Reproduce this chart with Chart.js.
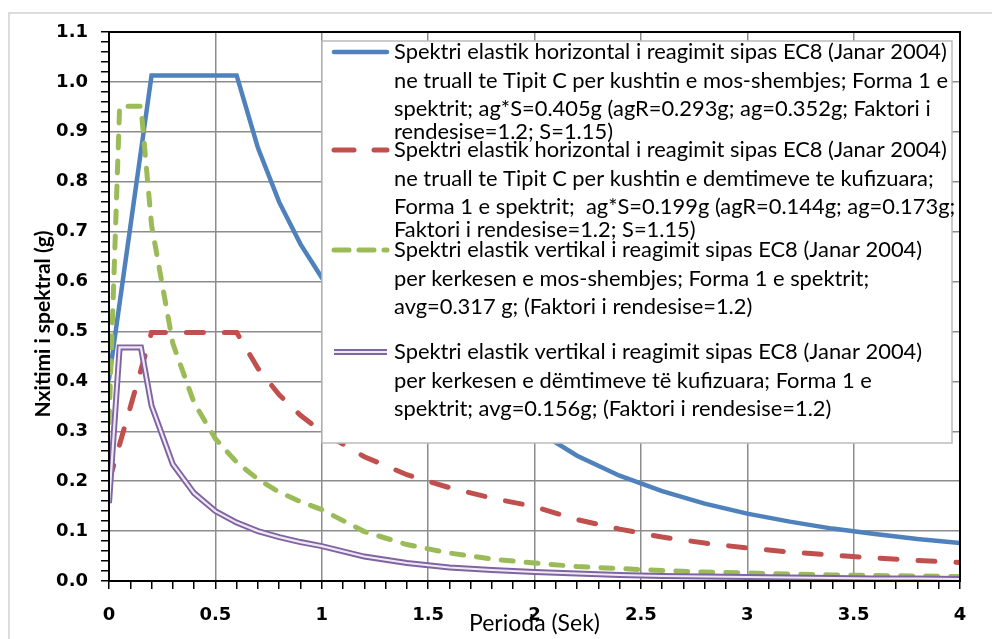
<!DOCTYPE html>
<html>
<head>
<meta charset="utf-8">
<script src="https://cdn.jsdelivr.net/npm/chart.js@4.4.1/dist/chart.umd.min.js"></script>
<style>
  body { margin: 0; background: #fff; }
  canvas { display: block; }
</style>
</head>
<body>
<canvas id="spektri" width="992" height="639"></canvas>
<script>
// periods (sek) and spectral accelerations (g)
const periods = [0, 0.05, 0.1, 0.15, 0.2, 0.3, 0.4, 0.5, 0.6, 0.7, 0.8, 0.9, 1.0, 1.2, 1.4, 1.6, 1.8, 2.0, 2.2, 2.4, 2.6, 2.8, 3.0, 3.2, 3.4, 3.6, 3.8, 4.0]
const horizMosShembje = [0.405, 0.557, 0.709, 0.861, 1.013, 1.013, 1.013, 1.013, 1.013, 0.868, 0.759, 0.675, 0.608, 0.506, 0.434, 0.380, 0.338, 0.304, 0.251, 0.211, 0.180, 0.155, 0.135, 0.119, 0.105, 0.094, 0.084, 0.076]
const horizDemtime = [0.199, 0.274, 0.348, 0.423, 0.498, 0.498, 0.498, 0.498, 0.498, 0.426, 0.373, 0.332, 0.299, 0.249, 0.213, 0.187, 0.166, 0.149, 0.123, 0.104, 0.088, 0.076, 0.066, 0.058, 0.052, 0.046, 0.041, 0.037]
const vertMosShembje = [0.317, 0.951, 0.951, 0.951, 0.713, 0.476, 0.357, 0.285, 0.238, 0.204, 0.178, 0.159, 0.143, 0.099, 0.073, 0.056, 0.044, 0.036, 0.029, 0.025, 0.021, 0.018, 0.016, 0.014, 0.012, 0.011, 0.010, 0.009]
const vertDemtime = [0.156, 0.468, 0.468, 0.468, 0.351, 0.234, 0.176, 0.140, 0.117, 0.100, 0.088, 0.078, 0.070, 0.049, 0.036, 0.027, 0.022, 0.018, 0.015, 0.012, 0.010, 0.009, 0.008, 0.007, 0.006, 0.005, 0.005, 0.004]

const label1 = ['Spektri elastik horizontal i reagimit sipas EC8 (Janar 2004)',
  'ne truall te Tipit C per kushtin e mos-shembjes; Forma 1 e',
  'spektrit; ag*S=0.405g (agR=0.293g; ag=0.352g; Faktori i',
  'rendesise=1.2; S=1.15)']
const label2 = ['Spektri elastik horizontal i reagimit sipas EC8 (Janar 2004)',
  'ne truall te Tipit C per kushtin e demtimeve te kufizuara;',
  'Forma 1 e spektrit;  ag*S=0.199g (agR=0.144g; ag=0.173g;',
  'Faktori i rendesise=1.2; S=1.15)']
const label3 = ['Spektri elastik vertikal i reagimit sipas EC8 (Janar 2004)',
  'per kerkesen e mos-shembjes; Forma 1 e spektrit;',
  'avg=0.317 g; (Faktori i rendesise=1.2)']
const label4 = ['Spektri elastik vertikal i reagimit sipas EC8 (Janar 2004)',
  'per kerkesen e dëmtimeve të kufizuara; Forma 1 e',
  'spektrit; avg=0.156g; (Faktori i rendesise=1.2)']
const legendLines = [label1, label2, label3, label4]

const toPoints = values => periods.map((p, i) => ({ x: p, y: values[i] }))
const isStep = (v, n) => Math.abs(v * n - Math.round(v * n)) < 1e-6

const tickFont = { family: '"DejaVu Sans"', weight: 'bold', size: 18 }

// white page with the light outer frame, black border round the plot area
const frame = {
  id: 'frame',
  beforeDraw(chart) {
    const c = chart.ctx
    c.save()
    c.fillStyle = '#fff'
    c.fillRect(0, 0, chart.width, chart.height)
    c.strokeStyle = '#dcdcdc'
    c.lineWidth = 2
    c.strokeRect(9, 13, chart.width + 20, chart.height + 20)
    c.restore()
  },
  afterDatasetsDraw(chart) {
    const a = chart.chartArea
    const c = chart.ctx
    c.save()
    c.strokeStyle = '#000'
    c.lineWidth = 2
    c.strokeRect(a.left, a.top, a.right - a.left, a.bottom - a.top)
    c.restore()
  }
}

// y title sits a little below the middle in the original
const yTitle = {
  id: 'yTitle',
  afterDraw(chart) {
    const c = chart.ctx
    c.save()
    c.translate(43, 324)
    c.rotate(-Math.PI / 2)
    c.font = 'bold 21px Lato'
    c.fillStyle = '#000'
    c.textAlign = 'center'
    c.textBaseline = 'middle'
    c.fillText('Nxitimi i spektral (g)', 0, 0)
    c.restore()
  }
}

// boxed legend drawn over the plot, like the excel one
const legendBox = {
  id: 'legendBox',
  afterDraw(chart) {
    const c = chart.ctx
    const rowY = [52, 150, 250, 352]
    const lineOffsets = [0, 29, 57, 80]
    c.save()
    c.fillStyle = '#fff'
    c.fillRect(322, 41, 630, 402)
    c.strokeStyle = '#bcbcbc'
    c.lineWidth = 1.5
    c.strokeRect(322, 41, 630, 402)

    c.font = '16px Lato'
    const w = c.measureText(label1[0]).width
    const size = 16 * 553 / w
    c.font = size.toFixed(2) + 'px Lato'
    c.textBaseline = 'middle'

    legendLines.forEach((lines, row) => {
      const y = rowY[row]
      chart.data.datasets.filter(d => d.legendRow === row).forEach(d => {
        c.beginPath()
        c.strokeStyle = d.borderColor
        c.lineWidth = d.borderWidth
        c.lineCap = d.borderCapStyle || 'butt'
        c.setLineDash(d.legendDash || d.borderDash || [])
        c.moveTo(334, y)
        c.lineTo(387, y)
        c.stroke()
      })
      c.setLineDash([])
      c.fillStyle = '#000'
      lines.forEach((t, i) => c.fillText(t, 394, y + lineOffsets[i]))
    })
    c.restore()
  }
}

const ctx = document.getElementById('spektri')

new Chart(ctx, {
  type: 'line',
  data: {
    datasets: [
      {
        label: label1.join(' '),
        data: toPoints(horizMosShembje),
        borderColor: '#4F81BD',
        borderWidth: 4.5,
        borderCapStyle: 'round',
        pointRadius: 0,
        legendRow: 0,
        order: 5
      },
      {
        label: label2.join(' '),
        data: toPoints(horizDemtime),
        borderColor: '#C0504D',
        borderWidth: 5,
        borderDash: [17, 21],
        legendDash: [20, 20],
        borderCapStyle: 'round',
        pointRadius: 0,
        legendRow: 1,
        order: 4
      },
      {
        label: label3.join(' '),
        data: toPoints(vertMosShembje),
        borderColor: '#9BBB59',
        borderWidth: 5,
        borderDash: [12, 13],
        legendDash: [15, 10],
        borderCapStyle: 'round',
        pointRadius: 0,
        legendRow: 2,
        order: 3
      },
      {
        label: label4.join(' '),
        data: toPoints(vertDemtime),
        borderColor: '#8064A2',
        borderWidth: 6,
        pointRadius: 0,
        legendRow: 3,
        order: 2
      },
      {
        // inner light stroke of the double line
        label: '',
        data: toPoints(vertDemtime),
        borderColor: '#efe9f6',
        borderWidth: 2.2,
        pointRadius: 0,
        legendRow: 3,
        order: 1
      }
    ]
  },
  options: {
    responsive: false,
    animation: false,
    layout: { padding: { top: 32, right: 32, left: 0, bottom: 0 } },
    plugins: {
      legend: { display: false },
      tooltip: { enabled: false }
    },
    scales: {
      x: {
        type: 'linear',
        min: 0,
        max: 4,
        afterFit(s) { s.height = 58 },
        ticks: {
          stepSize: 0.1,
          autoSkip: false,
          maxRotation: 0,
          padding: 16,
          color: '#000',
          font: tickFont,
          callback: v => isStep(v, 2) ? String(Math.round(v * 2) / 2) : ''
        },
        grid: {
          color: c => isStep(c.tick.value, 2) ? '#8c8c8c' : 'rgba(0,0,0,0)',
          lineWidth: 1.5,
          tickColor: '#000',
          tickLength: 8,
          tickWidth: 1.5
        },
        border: { color: '#000', width: 2 },
        title: {
          display: true,
          text: 'Perioda (Sek)',
          color: '#000',
          font: { family: 'Lato', size: 23 },
          padding: { top: 0, bottom: 2 }
        }
      },
      y: {
        min: 0,
        max: 1.1,
        afterFit(s) { s.width = 109 },
        ticks: {
          stepSize: 0.02,
          autoSkip: false,
          padding: 13,
          color: '#000',
          font: tickFont,
          callback: v => isStep(v, 10) ? v.toFixed(1) : ''
        },
        grid: {
          color: c => isStep(c.tick.value, 10) ? '#8c8c8c' : 'rgba(0,0,0,0)',
          lineWidth: 1.5,
          tickColor: '#000',
          tickLength: 8,
          tickWidth: 1.5
        },
        border: { color: '#000', width: 2 }
      }
    }
  },
  plugins: [frame, yTitle, legendBox]
})
</script>
</body>
</html>
